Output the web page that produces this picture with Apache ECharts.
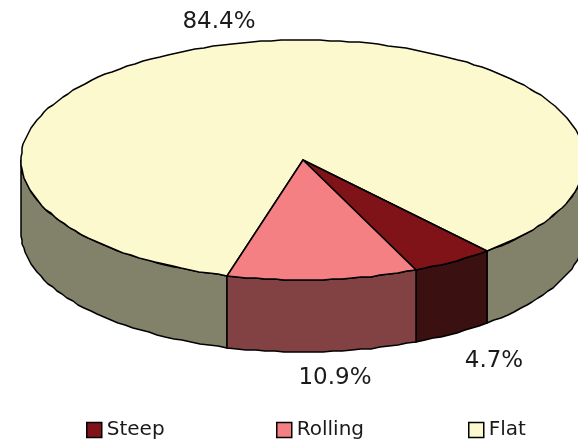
<!DOCTYPE html>
<html><head><meta charset="utf-8">
<style>html,body{margin:0;padding:0;background:#fff}#c{width:578px;height:442px}</style>
<script src="https://cdn.jsdelivr.net/npm/echarts@6/dist/echarts.min.js"></script>
</head><body><div id="c"></div>
<script>
var categories = ['Steep', 'Rolling', 'Flat'];
var shares = [4.7, 10.9, 84.4];
var topColors = ['#7F1318', '#F58084', '#FCF9CF'];
var sideColors = ['#3A1011', '#824244', '#82826A'];
var labelOffsets = [[41, 27], [12, 26], [-23, -21]];
var legendLefts = [86, 276, 468];

var CX = 303, CY = 160, RX = 282, RY = 120, DEPTH = 72, START = 49.4;
var total = shares.reduce(function (a, b) { return a + b; }, 0);

function sliceRange(i) {
  var a = START;
  for (var k = 0; k < i; k++) a += shares[k] / total * 360;
  return [a, a + shares[i] / total * 360];
}
function pt(deg, dy) {
  var r = deg * Math.PI / 180;
  return [Math.round(CX + RX * Math.cos(r)), Math.round(CY + RY * Math.sin(r)) + (dy || 0)];
}
function arc(a, b, dy) {
  var pts = [], n = Math.max(2, Math.ceil(Math.abs(b - a) / 2));
  for (var i = 0; i <= n; i++) pts.push(pt(a + (b - a) * i / n, dy));
  return pts;
}
function sideWall(a, b, fill) {
  return {
    type: 'polygon', z2: 1,
    shape: { points: arc(a, b, 0).concat(arc(b, a, DEPTH)) },
    style: { fill: fill, stroke: '#000', lineWidth: 1.5, lineJoin: 'round' }
  };
}
function makeRender(i) {
  return function (params, api) {
    var r = sliceRange(i), kids = [];
    [[0, 180], [360, 540]].forEach(function (w) {
      var a = Math.max(r[0], w[0]), b = Math.min(r[1], w[1]);
      if (b > a) kids.push(sideWall(a, b, sideColors[i]));
    });
    kids.push({
      type: 'polygon', z2: 2,
      shape: { points: [[CX, CY]].concat(arc(r[0], r[1], 0)) },
      style: { fill: topColors[i], stroke: '#000', lineWidth: 1.5, lineJoin: 'round' }
    });
    var mid = pt((r[0] + r[1]) / 2, api.value(0) > 50 ? 0 : DEPTH);
    kids.push({
      type: 'text', z2: 3,
      style: {
        x: mid[0] + labelOffsets[i][0], y: mid[1] + labelOffsets[i][1],
        text: api.value(0).toFixed(1) + '%', fill: '#1a1a1a',
        font: '23px "DejaVu Sans"', align: 'center', verticalAlign: 'middle'
      }
    });
    return { type: 'group', children: kids };
  };
}
var series = categories.map(function (name, i) {
  return {
    name: name, type: 'custom', coordinateSystem: 'none',
    z: i === 2 ? 1 : 2,
    itemStyle: { color: topColors[i] },
    renderItem: makeRender(i),
    data: [[shares[i]]],
    silent: true, clip: false
  };
});
var chart = echarts.init(document.getElementById('c'), null, { renderer: 'canvas' });
chart.setOption({
  animation: false,
  backgroundColor: '#fff',
  legend: categories.map(function (name, i) {
    return {
      data: [name], left: legendLefts[i], top: 420, padding: 0, itemWidth: 15, itemHeight: 15,
      icon: 'rect', selectedMode: false,
      itemStyle: { borderColor: '#000', borderWidth: 1.5 },
      textStyle: { fontFamily: '"DejaVu Sans"', fontSize: 20, color: '#1a1a1a' }
    };
  }),
  series: series
});
</script></body></html>
